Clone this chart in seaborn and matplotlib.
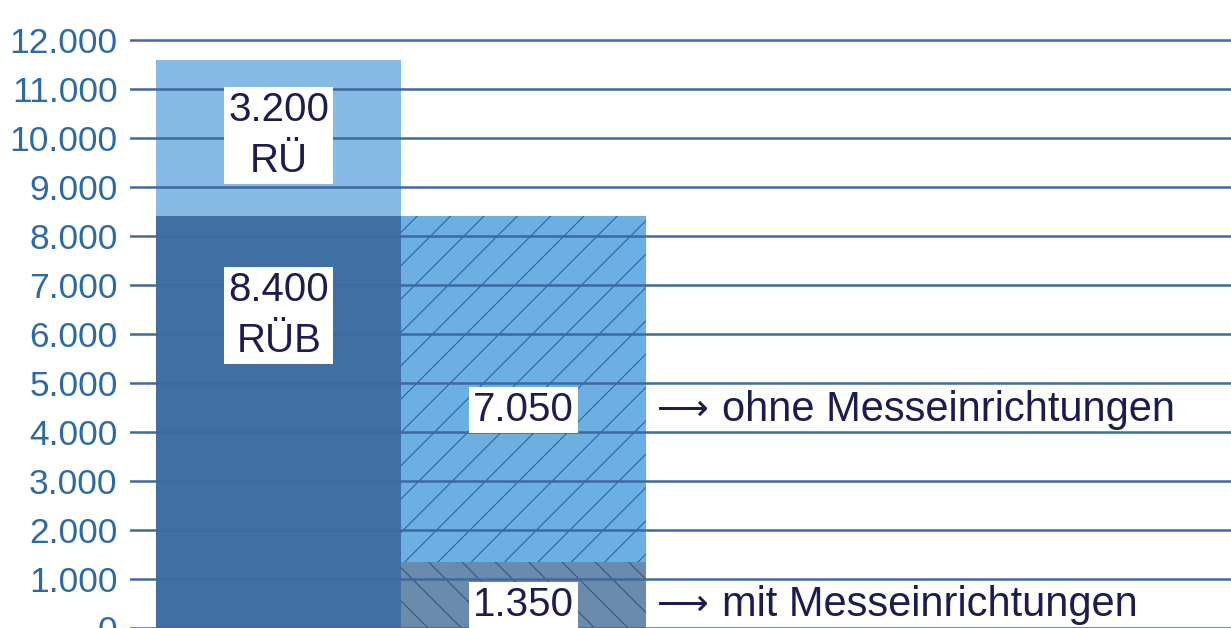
import matplotlib
matplotlib.use("Agg")
from matplotlib import pyplot as plt
import numpy as np
import pandas as pd
import seaborn as sns

# data
categories = ["RÜ / RÜB", "Messeinrichtungen"]
bottom_values = [8400, 1350]      # RÜB / mit Messeinrichtungen
top_values = [3200, 7050]         # RÜ / ohne Messeinrichtungen
bottom_labels = ["8.400\nRÜB", "1.350"]
top_labels = ["3.200\nRÜ", "7.050"]
side_labels = ["mit Messeinrichtungen", "ohne Messeinrichtungen"]
yticks = list(range(0, 13000, 1000))

totals = [b + t for b, t in zip(bottom_values, top_values)]
df = pd.DataFrame({"cat": categories, "bottom": bottom_values, "total": totals})

sns.set_style("white")
plt.rcParams['font.family'] = ['Liberation Sans', 'DejaVu Sans']
plt.rcParams['hatch.linewidth'] = 0.8

fig = plt.figure(figsize=(12.31, 6.28), dpi=100)
ax = fig.add_axes([130 / 1231, 0, 1 - 130 / 1231, 1])

top_colors = ["#86bbe6", "#6cafe3"]
bottom_colors = ["#3f6fa3", "#6a8bab"]
sns.barplot(data=df, x="cat", y="total", hue="cat", palette=top_colors, width=1.0,
            saturation=1, legend=False, ax=ax, linewidth=0)
sns.barplot(data=df, x="cat", y="bottom", hue="cat", palette=bottom_colors, width=1.0,
            saturation=1, legend=False, ax=ax, linewidth=0)

# hatching on second bar
bars = ax.patches
for p in bars:
    p.set_linewidth(0)
bar2 = [p for p in bars if abs(p.get_x() + p.get_width() / 2 - 1) < 0.01]
bar2[0].set_hatch("/")
bar2[0].set_edgecolor("#2f62a6")
bar2[1].set_hatch("\\")
bar2[1].set_edgecolor("#3c5877")

ax.set_xlim(-0.608, 3.888)
ax.set_ylim(0, 12816)
ax.set_yticks(yticks)
ax.set_yticklabels([f"{v:,}".replace(",", ".") for v in yticks])
ax.tick_params(axis="y", length=0, pad=9, labelsize=25.5, labelcolor="#2c6aa6")
ax.set_xticks([])
ax.set_xlabel("")
ax.set_ylabel("")
for s in ax.spines.values():
    s.set_visible(False)

ax.set_axisbelow(False)
ax.yaxis.grid(True, color="#3f68a0", linewidth=1.8)

txt = dict(fontsize=29, color="#1c1c52", ha="center", va="center", linespacing=1.45,
           bbox=dict(facecolor="white", edgecolor="none", pad=3), zorder=5)
ax.text(0, 10050, top_labels[0], **txt)
ax.text(0, 6380, bottom_labels[0], **txt)
ax.text(1, 4450, top_labels[1], **txt)
ax.text(1, 470, bottom_labels[1], **txt)

# side notes with long arrows
for yv, lab in [(4450, side_labels[1]), (470, side_labels[0])]:
    ax.text(1.545, yv, "⟶", fontsize=26, color="#1c1c52", va="center",
            family=["DejaVu Sans"], zorder=5)
    ax.text(1.81, yv, lab, fontsize=30, color="#1c1c52", va="center", zorder=5)

fig.savefig("out.png", dpi=100)
